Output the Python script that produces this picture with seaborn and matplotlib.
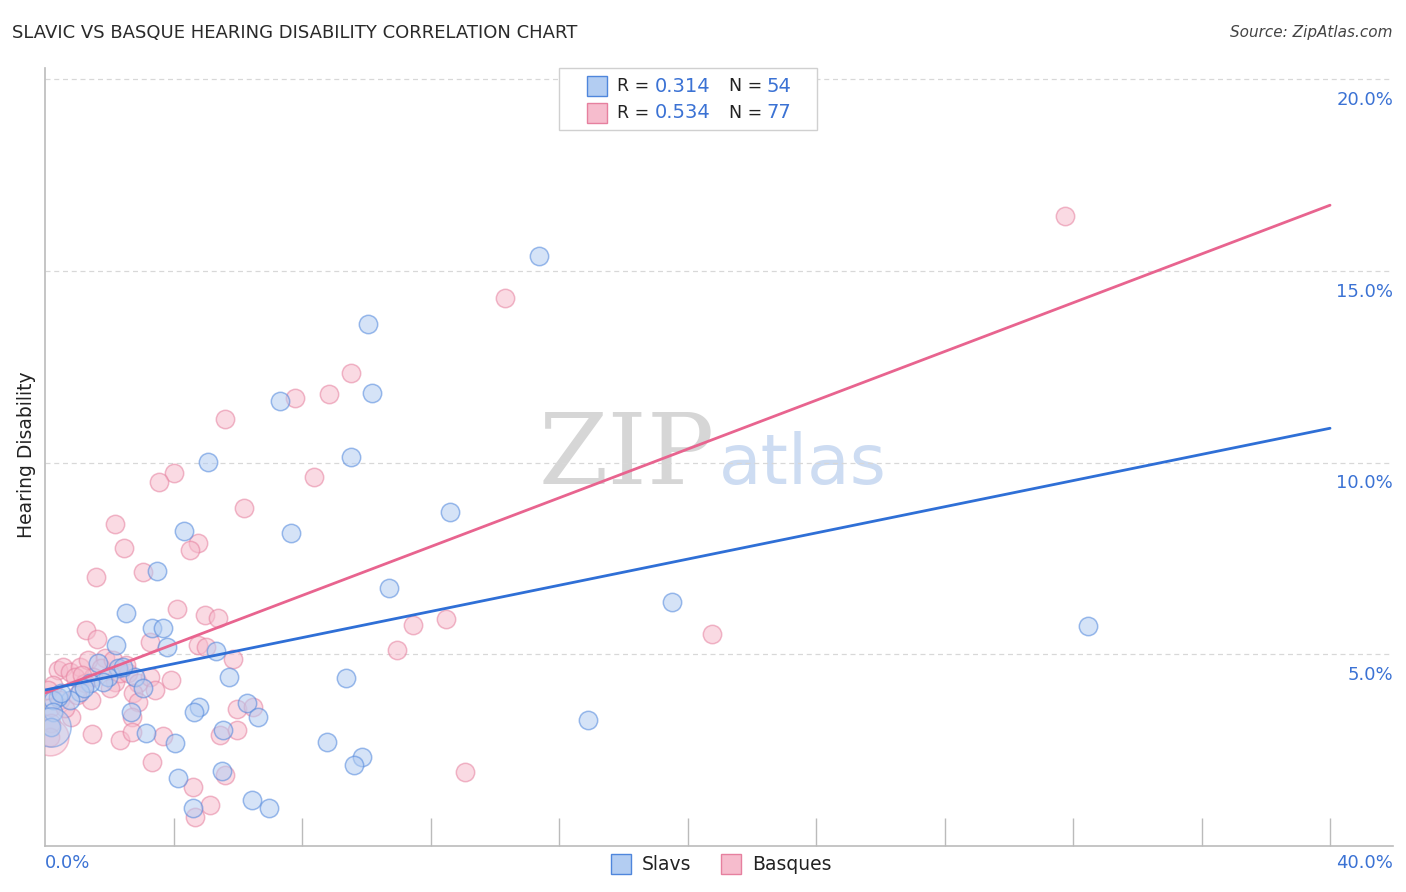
import numpy as np
import pandas as pd
import matplotlib
matplotlib.use("Agg")
import matplotlib.pyplot as plt
import seaborn as sns
from matplotlib.patches import Rectangle

# Slavs (blue) - hearing disability vs x share, in %
slavs_x = [15.38, 10.05, 10.18, 7.32, 5.07, 9.53, 12.61, 4.33, 7.66, 3.49,
           10.71, 19.52, 32.47, 2.52, 3.33, 3.67, 2.21, 3.80, 5.32, 5.73,
           9.37, 1.65, 2.27, 1.96, 2.80, 3.05, 1.81, 1.40, 1.09, 0.78,
           0.40, 0.25, 0.25, 2.68, 4.79, 4.64, 6.29, 6.63, 5.54, 3.14,
           4.05, 8.77, 16.90, 9.87, 9.62, 4.14, 5.51, 4.61, 6.44, 6.97,
           0.19, 2.43, 0.50, 1.20]
slavs_y = [15.39, 13.62, 11.82, 11.61, 10.02, 10.15, 8.71, 8.22, 8.17, 7.17,
           6.73, 6.37, 5.74, 6.08, 5.69, 5.69, 5.25, 5.19, 5.09, 4.41,
           4.38, 4.77, 4.64, 4.41, 4.41, 4.12, 4.28, 4.25, 4.02, 3.81,
           3.89, 3.81, 3.50, 3.50, 3.63, 3.50, 3.72, 3.37, 3.03, 2.95,
           2.69, 2.71, 3.29, 2.32, 2.11, 1.77, 1.96, 0.99, 1.20, 0.99,
           3.10, 4.67, 4.00, 4.12]

# Basques (pink)
basques_x = [31.75, 14.32, 9.53, 7.78, 8.84, 5.60, 4.02, 3.55, 8.37, 6.19,
             2.18, 4.76, 4.51, 2.46, 1.59, 3.05, 4.11, 4.98, 5.39, 12.48,
             11.46, 20.76, 1.28, 1.62, 3.27, 10.96, 4.76, 5.01, 5.85, 0.40,
             0.56, 0.78, 1.09, 1.34, 1.87, 1.74, 0.93, 1.49, 1.25, 2.18,
             2.02, 2.33, 2.58, 2.89, 3.27, 3.92, 2.74, 2.89, 1.43, 0.25,
             0.19, 0.19, 0.81, 1.46, 2.33, 2.71, 3.67, 3.33, 4.61, 5.14,
             4.67, 5.98, 6.47, 5.45, 5.98, 5.60, 13.07, 0.16, 2.71, 0.10,
             0.47, 2.12, 2.52, 1.15, 3.42, 0.62, 1.00]
basques_y = [16.44, 14.30, 12.34, 11.69, 11.79, 11.14, 9.73, 9.50, 9.63, 8.82,
             8.40, 7.91, 7.72, 7.77, 7.02, 7.15, 6.18, 6.03, 5.95, 5.92,
             5.77, 5.53, 5.64, 5.40, 5.32, 5.11, 5.25, 5.19, 4.88, 4.59,
             4.67, 4.54, 4.67, 4.85, 4.90, 4.64, 4.41, 4.41, 4.25, 4.28,
             4.12, 4.51, 4.51, 4.25, 4.41, 4.33, 3.99, 3.76, 3.81, 4.20,
             3.63, 3.21, 3.37, 2.92, 2.77, 3.37, 2.87, 2.19, 1.54, 1.07,
             0.76, 3.57, 3.63, 2.90, 3.03, 1.85, 1.93, 2.84, 2.97, 4.07,
             3.81, 4.85, 4.72, 4.46, 4.07, 3.60, 3.95]

# Trend lines (value at x = 0% and x = 40%)
trend_x = [0, 40]
slavs_trend = [4.07, 10.90]
basques_trend = [3.99, 16.72]

slavs = pd.DataFrame({"x": slavs_x, "y": slavs_y})
basques = pd.DataFrame({"x": basques_x, "y": basques_y})

BLUE_FILL = "#b3cdf2"
BLUE_EDGE = "#4f86dc"
BLUE_LINE = "#2f6fd6"
PINK_FILL = "#f6bccd"
PINK_EDGE = "#e6809f"
PINK_LINE = "#e8648f"
LABEL_BLUE = "#3b72d4"

sns.set_style("white")
plt.rcParams["font.family"] = ["DejaVu Sans"]

fig = plt.figure(figsize=(14.06, 8.92), dpi=100)
ax = fig.add_axes([45 / 1406, 1 - 846 / 892, (1393 - 45) / 1406, (846 - 68) / 892])

sns.scatterplot(data=basques, x="x", y="y", ax=ax, s=175, color=PINK_FILL,
                edgecolor=PINK_EDGE, linewidth=1.1, alpha=0.55, zorder=3)
sns.scatterplot(data=slavs, x="x", y="y", ax=ax, s=175, color=BLUE_FILL,
                edgecolor=BLUE_EDGE, linewidth=1.1, alpha=0.55, zorder=4)
# larger bubbles near the origin
sns.scatterplot(x=slavs_x[50:51], y=slavs_y[50:51], ax=ax, s=800, color=BLUE_FILL,
                edgecolor=BLUE_EDGE, linewidth=1.1, alpha=0.45, zorder=4)
sns.scatterplot(x=basques_x[67:68], y=basques_y[67:68], ax=ax, s=700, color=PINK_FILL,
                edgecolor=PINK_EDGE, linewidth=1.1, alpha=0.45, zorder=3)

sns.lineplot(x=trend_x, y=basques_trend, ax=ax, color=PINK_LINE, linewidth=2, zorder=5)
sns.lineplot(x=trend_x, y=slavs_trend, ax=ax, color=BLUE_LINE, linewidth=2, zorder=5)

ax.set_xlim(0, 41.96)
ax.set_ylim(0, 20.3)
ax.set_xlabel("")
ax.set_ylabel("")

# grid lines
for v in [5, 10, 15, 20]:
    ax.axhline(v, color="#d8d8d8", linestyle=(0, (4, 3)), linewidth=0.9, zorder=1)

ax.set_yticks([])
ax.set_xticks(np.arange(4, 41, 4))
ax.set_xticklabels([])
ax.tick_params(axis="x", direction="in", length=20, color="#bbbbbb", width=1, bottom=True)
for side in ["top", "right"]:
    ax.spines[side].set_visible(False)
for side in ["left", "bottom"]:
    ax.spines[side].set_color("#bbbbbb")
    ax.spines[side].set_linewidth(1.2)

# right-side tick labels
for v in [5, 10, 15, 20]:
    ax.text(1.0, v - 0.3, f"{v:.1f}%", transform=ax.get_yaxis_transform(),
            ha="right", va="top", fontsize=13, color=LABEL_BLUE)

fig.text(45 / 1406, 1 - 863 / 892, "0.0%", ha="left", va="center", fontsize=13, color=LABEL_BLUE)
fig.text(1393 / 1406, 1 - 863 / 892, "40.0%", ha="right", va="center", fontsize=13, color=LABEL_BLUE)

fig.text(27 / 1406, 1 - 455 / 892, "Hearing Disability", rotation=90, ha="center",
         va="center", fontsize=13.5, color="#222222")

fig.text(12 / 1406, 1 - 33 / 892, "SLAVIC VS BASQUE HEARING DISABILITY CORRELATION CHART",
         ha="left", va="center", fontsize=13, color="#2a2a2a")
fig.text(1393 / 1406, 1 - 33 / 892, "Source: ZipAtlas.com", ha="right", va="center",
         fontsize=11, color="#444444", style="italic")

# watermark
ax.text(0.497, 0.50, "ZIP", transform=ax.transAxes, ha="right", va="center",
        fontsize=72, color="#d6d6d6", family="DejaVu Serif", zorder=0)
ax.text(0.5, 0.49, "atlas", transform=ax.transAxes, ha="left", va="center",
        fontsize=50, color="#cddcf2", zorder=0)

# top legend box
fig.patches.append(Rectangle((559 / 1406, 1 - 130 / 892), 258 / 1406, 62 / 892,
                             transform=fig.transFigure, facecolor="white",
                             edgecolor="#d0d0d0", linewidth=1, zorder=6))
rows = [(86, BLUE_FILL, BLUE_EDGE, "0.314", "54"), (113, PINK_FILL, PINK_EDGE, "0.534", "77")]
for py, fc, ec, r, n in rows:
    yy = 1 - py / 892
    fig.patches.append(Rectangle((587 / 1406, yy - 10 / 892), 20 / 1406, 20 / 892,
                                 transform=fig.transFigure, facecolor=fc,
                                 edgecolor=ec, linewidth=1, zorder=7))
    fig.text(617 / 1406, yy, "R =", ha="left", va="center", fontsize=12.5, color="#222222", zorder=7)
    fig.text(710 / 1406, yy, r, ha="right", va="center", fontsize=14, color=LABEL_BLUE, zorder=7)
    fig.text(729 / 1406, yy, "N =", ha="left", va="center", fontsize=12.5, color="#222222", zorder=7)
    fig.text(766 / 1406, yy, n, ha="left", va="center", fontsize=14, color=LABEL_BLUE, zorder=7)

# bottom legend
yb = 1 - 864 / 892
for x0, fc, ec, lab in [(611, BLUE_FILL, BLUE_EDGE, "Slavs"), (721, PINK_FILL, PINK_EDGE, "Basques")]:
    fig.patches.append(Rectangle((x0 / 1406, yb - 10 / 892), 20 / 1406, 20 / 892,
                                 transform=fig.transFigure, facecolor=fc,
                                 edgecolor=ec, linewidth=1))
    fig.text((x0 + 31) / 1406, yb, lab, ha="left", va="center", fontsize=13.5, color="#222222")

fig.savefig("out.png", dpi=100)
